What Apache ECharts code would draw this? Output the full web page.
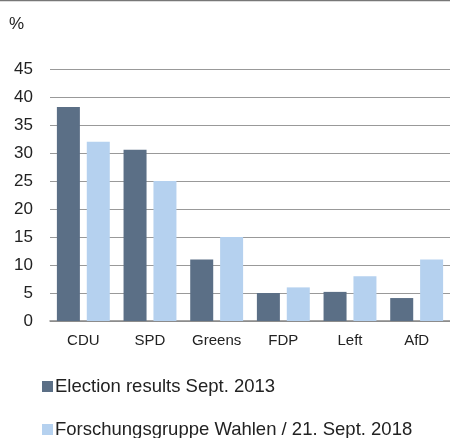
<!DOCTYPE html>
<html>
<head>
<meta charset="utf-8">
<script src="https://cdn.jsdelivr.net/npm/echarts@6/dist/echarts.min.js"></script>
<style>
  html, body { margin: 0; padding: 0; background: #fff; }
  #chart { width: 450px; height: 438px; }
</style>
</head>
<body>
<div id="chart"></div>
<script>
var parties = ['CDU', 'SPD', 'Greens', 'FDP', 'Left', 'AfD']
var election2013 = [38.2, 30.6, 11, 5, 5.2, 4.1]
var poll2018 = [32, 25, 15, 6, 8, 11]
var seriesNames = ['Election results Sept. 2013', 'Forschungsgruppe Wahlen / 21. Sept. 2018']

var chart = echarts.init(document.getElementById('chart'))
var font = 'Liberation Sans, Arial, sans-serif'

// one legend per row, the reference stacks them
function legendRow(name, top) {
  return {
    left: 37,
    top: top,
    itemWidth: 11,
    itemHeight: 11,
    itemGap: 0,
    icon: 'rect',
    textStyle: { fontSize: 18.5, color: '#222', padding: [0, 0, 0, -3] },
    data: [name]
  }
}

var option = {
  animation: false,
  backgroundColor: '#ffffff',
  color: ['#5b6f86', '#b5d1ef'],
  textStyle: { fontFamily: font },
  title: {
    text: '%',
    left: 4,
    top: 11,
    textStyle: { fontSize: 17, fontWeight: 'normal', color: '#222', fontFamily: font }
  },
  graphic: [{
    type: 'line',
    shape: { x1: 0, y1: 0.5, x2: 450, y2: 0.5 },
    style: { stroke: '#777', lineWidth: 1.5 }
  }],
  grid: { left: 50, right: 0, top: 69, bottom: 117 },
  legend: [
    legendRow(seriesNames[0], 372),
    legendRow(seriesNames[1], 415)
  ],
  xAxis: {
    type: 'category',
    data: parties,
    axisLine: { lineStyle: { color: '#888', width: 1.5 } },
    axisTick: { show: false },
    axisLabel: { fontSize: 15, color: '#222', margin: 12 }
  },
  yAxis: {
    type: 'value',
    min: 0,
    max: 45,
    interval: 5,
    axisLine: { show: false },
    axisTick: { show: false },
    axisLabel: { fontSize: 17, color: '#222', margin: 17 },
    splitLine: { lineStyle: { color: '#999', width: 1 } }
  },
  series: [{
    name: seriesNames[0],
    type: 'bar',
    data: election2013,
    barWidth: 23,
    barGap: '30%'
  }, {
    name: seriesNames[1],
    type: 'bar',
    data: poll2018,
    barWidth: 23
  }]
}
chart.setOption(option)
</script>
</body>
</html>
